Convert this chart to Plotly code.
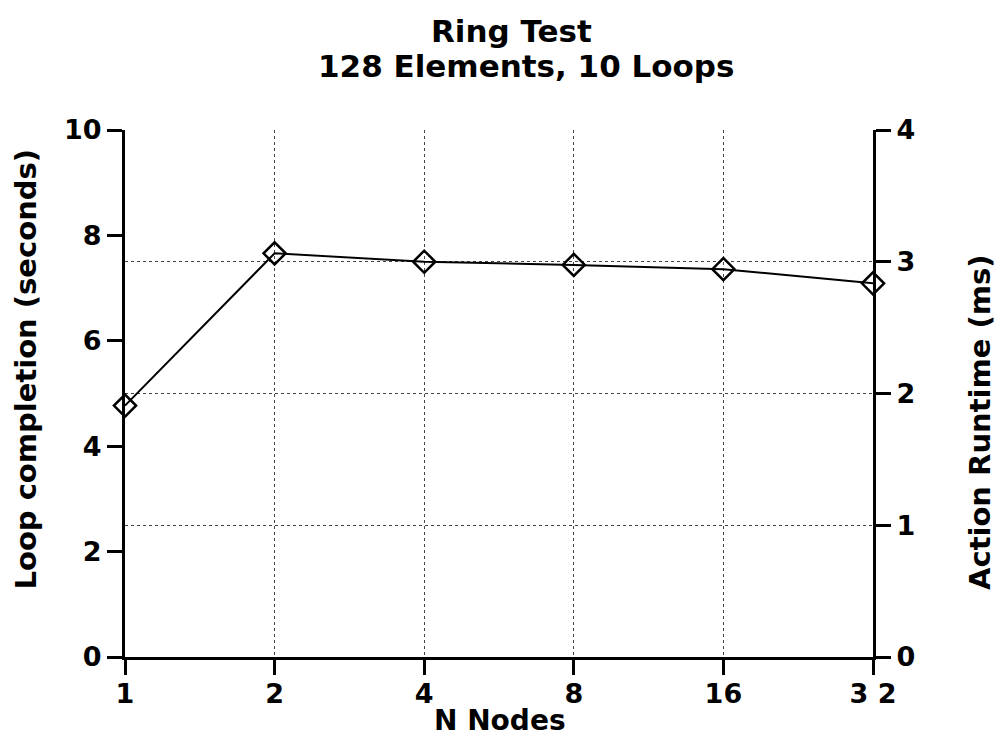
import plotly.graph_objects as go

nodes = [1, 2, 4, 8, 16, 32]
node_labels = ["1", "2", "4", "8", "16", "3 2"]
loop_seconds = [4.77, 7.66, 7.50, 7.44, 7.36, 7.09]

left_ticks = [0, 2, 4, 6, 8, 10]
right_ticks = [0, 1, 2, 3, 4]
seconds_per_ms_axis = 2.5  # left axis 0-10 s spans the same height as right axis 0-4 ms

title_line1 = "Ring Test"
title_line2 = "128 Elements, 10 Loops"
x_title = "N Nodes"
y_left_title = "Loop completion (seconds)"
y_right_title = "Action Runtime (ms)"

FONT = "DejaVu Sans, Liberation Sans, Arial, sans-serif"
def f(size):
    return dict(family=FONT, size=size, color="black", weight="bold")

fig = go.Figure()
fig.add_trace(go.Scatter(
    x=nodes, y=loop_seconds, mode="lines+markers",
    line=dict(color="black", width=2),
    marker=dict(symbol="diamond-open", size=17, color="black", line=dict(width=2.5, color="black")),
    showlegend=False, cliponaxis=False, hoverinfo="x+y",
))
# invisible companion trace so the right-hand axis is drawn
fig.add_trace(go.Scatter(
    x=nodes, y=[v / seconds_per_ms_axis for v in loop_seconds], yaxis="y2",
    mode="lines", opacity=0, showlegend=False, hoverinfo="skip",
))

W, H = 996, 732
L, R, T, B = 117, 131, 122, 83
plot_w = W - L - R
plot_h = H - T - B

def px_x(screen_x):
    return (screen_x - 8 - L) / plot_w

def px_y(screen_y):
    return 1 + (T - (screen_y - 8)) / plot_h

fig.update_layout(
    width=W, height=H,
    paper_bgcolor="white", plot_bgcolor="white",
    margin=dict(l=L, r=R, t=T, b=B, autoexpand=False),
    xaxis=dict(type="log", range=[0, 1.50515], tickvals=nodes, ticktext=node_labels,
               tickfont=f(27), ticks="outside", ticklen=15, tickwidth=3, tickcolor="black",
               ticklabelstandoff=-4, automargin=False,
               showline=True, linewidth=3, linecolor="black",
               showgrid=True, gridcolor="#444", griddash="dot", gridwidth=1,
               zeroline=False),
    yaxis=dict(range=[0, 10], tickvals=left_ticks, tickfont=f(27), automargin=False,
               ticks="outside", ticklen=15, tickwidth=3, tickcolor="black",
               showline=True, linewidth=3, linecolor="black",
               showgrid=False, zeroline=False),
    yaxis2=dict(range=[0, 4], tickvals=right_ticks, tickfont=f(27), overlaying="y", side="right",
                automargin=False,
                ticks="outside", ticklen=15, tickwidth=3, tickcolor="black",
                showline=True, linewidth=3, linecolor="black",
                showgrid=True, gridcolor="#444", griddash="dot", gridwidth=1, zeroline=False),
    annotations=[
        dict(text=title_line1, xref="paper", yref="paper", x=px_x(512), y=px_y(31),
             xanchor="center", yanchor="middle", showarrow=False, font=f(31)),
        dict(text=title_line2, xref="paper", yref="paper", x=px_x(526), y=px_y(66),
             xanchor="center", yanchor="middle", showarrow=False, font=f(31)),
        dict(text=x_title, xref="paper", yref="paper", x=px_x(500), y=px_y(720),
             xanchor="center", yanchor="middle", showarrow=False, font=f(28)),
        dict(text=y_left_title, xref="paper", yref="paper", x=px_x(25), y=px_y(592),
             xanchor="center", yanchor="bottom", textangle=-90, showarrow=False, font=f(29)),
        dict(text=y_right_title, xref="paper", yref="paper", x=px_x(980), y=px_y(592),
             xanchor="center", yanchor="bottom", textangle=-90, showarrow=False, font=f(29)),
    ],
)

fig.write_html("out.html")
